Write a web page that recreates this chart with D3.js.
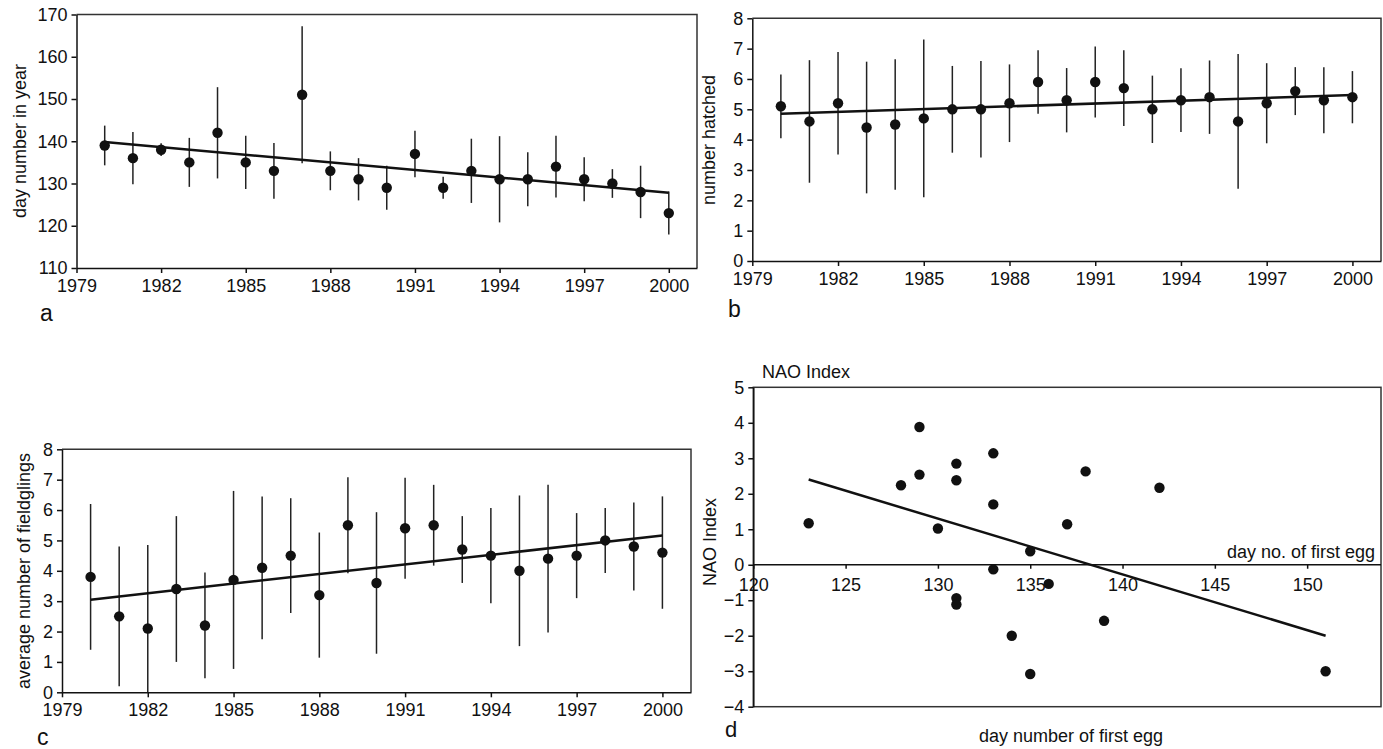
<!DOCTYPE html>
<meta charset="utf-8">
<script src="https://d3js.org/d3.v7.min.js"></script>
<html>
<head>
<style>
  body { margin: 0; background: #fff; }
  text { font-family: "Liberation Sans", Arial, Helvetica, sans-serif; fill: #111; }
  .axis text { font-size: 18px; }
  .axis path, .axis line { stroke: #111; stroke-width: 1.5; }
</style>
</head>
<body>
<div id="chart"></div>
<script>
// years 1980..2000
var years = d3.range(1980, 2001);
var yearTicks = [1979, 1982, 1985, 1988, 1991, 1994, 1997, 2000];

// a: laying date (day number in year), mean and sd
var layDate = [139, 136, 138, 135, 142, 135, 133, 151, 133, 131, 129, 137, 129, 133, 131, 131, 134, 131, 130, 128, 123];
var laySd   = [4.7, 6.2, 1.5, 5.8, 10.8, 6.3, 6.6, 16.2, 4.6, 5.0, 5.2, 5.5, 2.6, 7.6, 10.2, 6.4, 7.3, 5.2, 3.4, 6.2, 5.1];
var layTrend = [139.8, 127.8];

// b: number hatched
var hatched   = [5.1, 4.6, 5.2, 4.4, 4.5, 4.7, 5.0, 5.0, 5.2, 5.9, 5.3, 5.9, 5.7, 5.0, 5.3, 5.4, 4.6, 5.2, 5.6, 5.3, 5.4];
var hatchedSd = [1.05, 2.02, 1.69, 2.17, 2.15, 2.6, 1.43, 1.59, 1.28, 1.05, 1.06, 1.17, 1.25, 1.11, 1.05, 1.21, 2.22, 1.32, 0.79, 1.09, 0.86];
var hatchedTrend = [4.85, 5.47];

// c: average number of fledglings
var fledged   = [3.8, 2.5, 2.1, 3.4, 2.2, 3.7, 4.1, 4.5, 3.2, 5.5, 3.6, 5.4, 5.5, 4.7, 4.5, 4.0, 4.4, 4.5, 5.0, 4.8, 4.6];
var fledgedSd = [2.4, 2.3, 2.75, 2.4, 1.74, 2.93, 2.35, 1.89, 2.06, 1.58, 2.33, 1.66, 1.33, 1.1, 1.57, 2.48, 2.43, 1.4, 1.07, 1.45, 1.85];
var fledgedTrend = [3.05, 5.16];

// d: NAO index against day of first egg
var firstEgg = [123, 128, 129, 129, 130, 131, 131, 131, 131, 133, 133, 133, 134, 135, 135, 136, 137, 138, 139, 142, 151];
var naoIndex = [1.17, 2.24, 3.88, 2.54, 1.02, 2.85, 2.38, -0.94, -1.12, 3.14, 1.70, -0.13, -2.0, 0.38, -3.08, -0.54, 1.14, 2.63, -1.58, 2.17, -3.0];
var naoTrendX = [123, 151];
var naoTrendY = [2.40, -2.0];
var eggTicks = [120, 125, 130, 135, 140, 145, 150];

var svg = d3.select("#chart").append("svg")
  .attr("width", 1383)
  .attr("height", 749);

function frame(g, x, y) {
  // top and right border of the plot box
  g.append("path")
    .attr("d", "M" + x.range()[0] + "," + y.range()[1] + "H" + x.range()[1] + "V" + y.range()[0])
    .attr("fill", "none")
    .attr("stroke", "#333")
    .attr("stroke-width", 1.5);
}

function yearPanel(box, yDomain, yTicks, means, sds, trend, yTitle, titlePos, letter, letterPos) {
  var x = d3.scaleLinear().domain([1979, 2001]).range([box.left, box.right]);
  var y = d3.scaleLinear().domain(yDomain).range([box.bottom, box.top]);
  var g = svg.append("g");

  frame(g, x, y);

  g.append("g").attr("class", "axis")
    .attr("transform", "translate(0," + box.bottom + ")")
    .call(d3.axisBottom(x).tickValues(yearTicks).tickFormat(d3.format("d"))
      .tickSizeInner(5).tickSizeOuter(0).tickPadding(6));

  g.append("g").attr("class", "axis")
    .attr("transform", "translate(" + box.left + ",0)")
    .call(d3.axisLeft(y).tickValues(yTicks).tickFormat(d3.format("d"))
      .tickSizeInner(5).tickSizeOuter(0).tickPadding(4));

  // error bars
  g.selectAll(".err").data(years).enter().append("line")
    .attr("x1", function(d) { return x(d); })
    .attr("x2", function(d) { return x(d); })
    .attr("y1", function(d, i) { return y(Math.max(yDomain[0], means[i] - sds[i])); })
    .attr("y2", function(d, i) { return y(Math.min(yDomain[1], means[i] + sds[i])); })
    .attr("stroke", "#222")
    .attr("stroke-width", 1.5);

  // trend line
  g.append("line")
    .attr("x1", x(years[0])).attr("y1", y(trend[0]))
    .attr("x2", x(years[years.length - 1])).attr("y2", y(trend[1]))
    .attr("stroke", "#111")
    .attr("stroke-width", 2.5);

  g.selectAll(".dot").data(years).enter().append("circle")
    .attr("cx", function(d) { return x(d); })
    .attr("cy", function(d, i) { return y(means[i]); })
    .attr("r", 5.2)
    .attr("fill", "#111");

  g.append("text")
    .attr("transform", "translate(" + titlePos[0] + "," + titlePos[1] + ") rotate(-90)")
    .attr("text-anchor", "middle")
    .attr("dy", "0.35em")
    .style("font-size", "18px")
    .text(yTitle);

  g.append("text")
    .attr("x", letterPos[0]).attr("y", letterPos[1])
    .style("font-size", "23px")
    .text(letter);
}

yearPanel({left: 76.5, top: 14.5, right: 697, bottom: 268}, [110, 170], d3.range(110, 171, 10),
  layDate, laySd, layTrend, "day number in year", [20, 141], "a", [40, 321]);

yearPanel({left: 752.3, top: 18.3, right: 1381, bottom: 261}, [0, 8], d3.range(0, 9),
  hatched, hatchedSd, hatchedTrend, "number hatched", [709, 140], "b", [728, 317]);

yearPanel({left: 62, top: 449.3, right: 691, bottom: 692.3}, [0, 8], d3.range(0, 9),
  fledged, fledgedSd, fledgedTrend, "average number of fieldglings", [24, 571], "c", [37, 745]);

// panel d
(function() {
  var box = {left: 753.3, top: 387.3, right: 1381, bottom: 706.7};
  var x = d3.scaleLinear().domain([120, 154]).range([box.left, box.right]);
  var y = d3.scaleLinear().domain([-4, 5]).range([box.bottom, box.top]);
  var g = svg.append("g");

  g.append("rect")
    .attr("x", box.left).attr("y", box.top)
    .attr("width", box.right - box.left).attr("height", box.bottom - box.top)
    .attr("fill", "none").attr("stroke", "#333").attr("stroke-width", 1.5);

  g.append("g").attr("class", "axis")
    .attr("transform", "translate(" + box.left + ",0)")
    .call(d3.axisLeft(y).tickValues(d3.range(-4, 6)).tickFormat(d3.format("d"))
      .tickSizeInner(5).tickSizeOuter(0).tickPadding(4));

  var xa = g.append("g").attr("class", "axis")
    .attr("transform", "translate(0," + y(0) + ")")
    .call(d3.axisBottom(x).tickValues(eggTicks).tickFormat(d3.format("d"))
      .tickSizeInner(4).tickSizeOuter(0).tickPadding(9));
  xa.select(".domain").remove();

  g.append("line")
    .attr("x1", box.left).attr("x2", box.right)
    .attr("y1", y(0)).attr("y2", y(0))
    .attr("stroke", "#111").attr("stroke-width", 1.5);

  g.append("line")
    .attr("x1", x(naoTrendX[0])).attr("y1", y(naoTrendY[0]))
    .attr("x2", x(naoTrendX[1])).attr("y2", y(naoTrendY[1]))
    .attr("stroke", "#111").attr("stroke-width", 2.5);

  g.selectAll(".dot").data(firstEgg).enter().append("circle")
    .attr("cx", function(d) { return x(d); })
    .attr("cy", function(d, i) { return y(naoIndex[i]); })
    .attr("r", 5.2)
    .attr("fill", "#111");

  g.append("text")
    .attr("x", 762).attr("y", 378)
    .style("font-size", "18px")
    .text("NAO Index");

  g.append("text")
    .attr("x", 1375).attr("y", 558)
    .attr("text-anchor", "end")
    .style("font-size", "18px")
    .text("day no. of first egg");

  g.append("text")
    .attr("transform", "translate(710,542) rotate(-90)")
    .attr("text-anchor", "middle")
    .attr("dy", "0.35em")
    .style("font-size", "18px")
    .text("NAO Index");

  g.append("text")
    .attr("x", 1071).attr("y", 742)
    .attr("text-anchor", "middle")
    .style("font-size", "18px")
    .text("day number of first egg");

  g.append("text")
    .attr("x", 725).attr("y", 737)
    .style("font-size", "22px")
    .text("d");
})();
</script>
</body>
</html>
